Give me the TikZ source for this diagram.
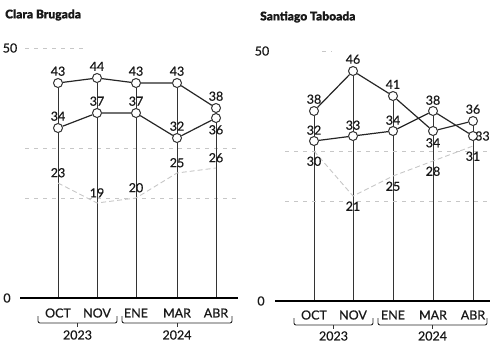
\documentclass[tikz,border=0pt]{standalone}
\usepackage{fontspec}
\setmainfont{Lato}
\newfontfamily\numfont{Lato}[FakeBold=0.6]
\newfontfamily\ttlfont{Lato Black}[FakeBold=0.2]
\usetikzlibrary{positioning}
\pgfdeclarelayer{bg}
\pgfsetlayers{bg,main}
\begin{document}
\begin{tikzpicture}[x=1pt,y=-1pt,
  pt/.style={circle,draw=black!80,fill=white,line width=1pt,minimum size=9pt,inner sep=0pt},
  num/.style={font=\numfont\fontsize{12.5}{12.5}\selectfont,inner sep=0.5pt,text=black!90},
  ser/.style={draw=black!85,line width=1.2pt},
  faint/.style={draw=black!22,line width=0.9pt,dash pattern=on 5pt off 3pt},
  gridl/.style={draw=black!22,line width=0.6pt,dash pattern=on 4pt off 5pt},
  vline/.style={draw=black!80,line width=0.9pt},
  base/.style={draw=black,line width=1.7pt},
  title/.style={font=\ttlfont\fontsize{12}{12}\selectfont,anchor=west,inner sep=0pt,text=black!90},
  mon/.style={font=\numfont\fontsize{12.5}{12.5}\selectfont,inner sep=0pt,text=black!90},
  brk/.style={draw=black!85,line width=0.9pt,rounded corners=2pt}]
\useasboundingbox (0,0) rectangle (490,343);

% ---------------- left chart ----------------
\node[title] (LT) at (5,15) {Clara Brugada};
\begin{scope}[yshift=-298pt,y=5pt]
  \node[num] (L0) at (7,0) {0};
  \node[num] (L50) at (10,50) {50};
  \coordinate (LG1a) at (25,50); \coordinate (LG1b) at (85,50);
  \coordinate (LG2a) at (25,30); \coordinate (LG2b) at (238,30);
  \coordinate (LG3a) at (25,20); \coordinate (LG3b) at (238,20);
  \coordinate (LBa) at (20,0); \coordinate (LBb) at (238,0);
  \foreach \x/\a/\ap/\b/\bp/\c [count=\i] in
    {58/43/above/34/above/23, 97/44/above/37/above/19, 136/43/above/37/above/20,
     177/43/above/32/above/25, 216/38/above/36/below/26}
  {
    \node[pt] (LA\i) at (\x,\a) {};
    \node[pt] (LB\i) at (\x,\b) {};
    \coordinate (LC\i) at (\x,\c);
    \coordinate (LX\i) at (\x,0);
    \node[num,\ap=1.5pt of LA\i] {\a};
    \node[num,\bp=1.5pt of LB\i] {\b};
    \node[num,above=5pt of LC\i] {\c};
  }
\end{scope}
\begin{pgfonlayer}{bg}
  \draw[gridl] (LG1a) -- (LG1b);
  \draw[gridl] (LG2a) -- (LG2b);
  \draw[gridl] (LG3a) -- (LG3b);
  \foreach \i in {1,...,5} { \draw[vline] (LA\i) -- (LX\i); }
  \draw[faint] (LC1) -- (LC2) -- (LC3) -- (LC4) -- (LC5);
  \draw[ser] (LA1) -- (LA2) -- (LA3) -- (LA4) -- (LA5);
  \draw[ser] (LB1) -- (LB2) -- (LB3) -- (LB4) -- (LB5);
\end{pgfonlayer}
\draw[base] (LBa) -- (LBb);
\foreach \x/\m [count=\i] in {58/OCT, 97/NOV, 136/ENE, 177/MAR, 216/ABR}
  { \node[mon] (LM\i) at (\x,313) {\m}; }
\draw[brk] (38,316) -- (38,323) -- (117,323) -- (117,316);
\draw[brk] (122,316) -- (122,323) -- (232,323) -- (232,316);
\draw[vline] (77.5,323) -- (77.5,327);
\draw[vline] (177,323) -- (177,327);
\node[mon] (LY1) at (77.5,335) {2023};
\node[mon] (LY2) at (177,335) {2024};

% ---------------- right chart ----------------
\node[title] (RT) at (260,17) {Santiago Taboada};
\begin{scope}[yshift=-301pt,y=5pt]
  \node[num] (R0) at (261,0) {0};
  \node[num] (R50) at (262,50) {50};
  \coordinate (RG1a) at (322,50); \coordinate (RG1b) at (332,50);
  \coordinate (RG2a) at (285,30); \coordinate (RG2b) at (490,30);
  \coordinate (RG3a) at (285,20); \coordinate (RG3b) at (490,20);
  \coordinate (RBa) at (275,0); \coordinate (RBb) at (490,0);
  \foreach \x/\a/\ap/\b/\bp/\bx/\c/\t [count=\i] in
    {314/38/above/32/above/0pt/30/A, 353/46/above/33/above/0pt/21/A, 393/41/above/34/above/0pt/25/A,
     433/34/below/38/above/0pt/28/B, 473/36/above/33/right/-4pt/31/A}
  {
    \node[pt] (RA\i) at (\x,\a) {};
    \node[pt] (RB\i) at (\x,\b) {};
    \coordinate (RC\i) at (\x,\c);
    \coordinate (RX\i) at (\x,0);
    \node[num,\ap=1.5pt of RA\i] {\a};
    \node[num,inner sep=0pt,\bp=1pt of RB\i,xshift=\bx] {\b};
    \node[num,below=5pt of RC\i] {\c};
    \begin{pgfonlayer}{bg}
      \draw[vline] (R\t\i) -- (RX\i);
    \end{pgfonlayer}
  }
\end{scope}
\begin{pgfonlayer}{bg}
  \draw[gridl] (RG1a) -- (RG1b);
  \draw[gridl] (RG2a) -- (RG2b);
  \draw[gridl] (RG3a) -- (RG3b);
  \draw[faint] (RC1) -- (RC2) -- (RC3) -- (RC4) -- (RC5);
  \draw[ser] (RA1) -- (RA2) -- (RA3) -- (RA4) -- (RA5);
  \draw[ser] (RB1) -- (RB2) -- (RB3) -- (RB4) -- (RB5);
\end{pgfonlayer}
\draw[base] (RBa) -- (RBb);
\foreach \x/\m [count=\i] in {314/OCT, 353/NOV, 393/ENE, 433/MAR, 473/ABR}
  { \node[mon] (RM\i) at (\x,315) {\m}; }
\draw[brk] (294,318) -- (294,325) -- (373,325) -- (373,318);
\draw[brk] (378,318) -- (378,325) -- (487,325) -- (487,318);
\draw[vline] (333.5,325) -- (333.5,329);
\draw[vline] (432.5,325) -- (432.5,329);
\node[mon] (RY1) at (333.5,336) {2023};
\node[mon] (RY2) at (432.5,336) {2024};
\end{tikzpicture}
\end{document}
